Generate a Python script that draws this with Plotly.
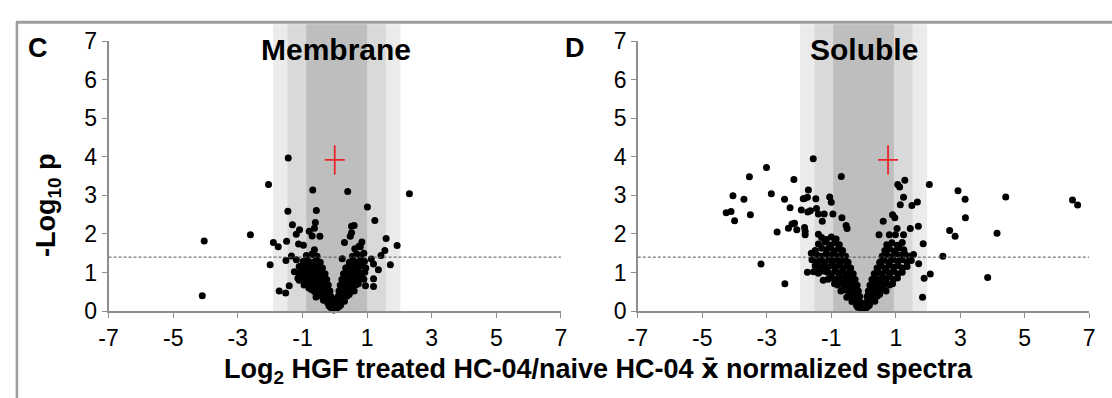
import plotly.graph_objects as go

# ---------------- data ----------------
# Membrane (panel C): isolated points
mem_x = [-1.44, -2.05, -0.68, 0.40, 1.01, -1.45, -0.57, 1.24, -0.60, -1.31, -1.09, -1.19, -0.79, -0.63,
         -0.70, -0.46, 0.52, 0.60, 0.52, 0.48, -2.61, -1.90, -1.75, -1.49, -1.12, -0.97, 0.30, 1.59,
         1.93, 0.84, 0.79, 1.55, 1.43, -1.34, -1.19, -2.00, -1.51, -0.63, -0.68, 1.72, 1.13, 1.20,
         1.35, -1.72, -1.52, 1.20, 1.20, 0.95, -1.41, -1.14, -4.04, -4.10, 2.31, 0.23]
mem_y = [3.97, 3.28, 3.14, 3.10, 2.70, 2.59, 2.61, 2.35, 2.30, 2.24, 2.11, 1.99, 2.07, 2.15,
         1.95, 1.94, 2.20, 2.22, 2.03, 1.94, 1.98, 1.78, 1.67, 1.81, 1.74, 1.71, 1.78, 1.88,
         1.70, 1.79, 1.67, 1.57, 1.44, 1.43, 1.33, 1.20, 1.31, 1.59, 1.47, 1.20, 1.35, 1.22,
         1.07, 0.52, 0.47, 0.84, 0.64, 0.66, 0.66, 0.85, 1.82, 0.40, 3.04, 1.36]

# Membrane: dense V near the origin (left arm then right arm), read row by row
mem_dense_x = [-0.03, -0.08, -0.13, -0.18, -0.06, -0.11,
               -0.10, -0.16, -0.22, -0.28, -0.35, -0.05,
               -0.12, -0.20, -0.27, -0.34, -0.42, -0.50, -0.58,
               -0.15, -0.23, -0.31, -0.39, -0.47, -0.55, -0.63, -0.72, -0.80,
               -0.20, -0.28, -0.36, -0.44, -0.52, -0.60, -0.68, -0.77, -0.86, -0.95,
               -0.25, -0.33, -0.41, -0.49, -0.57, -0.65, -0.74, -0.83, -0.92, -1.02, -1.10,
               -0.30, -0.40, -0.48, -0.56, -0.64, -0.72, -0.80, -0.90, -1.00, -1.12, -1.25,
               -0.38, -0.48, -0.58, -0.68, -0.78, -0.88, -1.00, -1.10,
               -0.45, -0.58, -0.70, -0.85, -0.98,
               -0.55, -0.70, -0.88,
               0.03, 0.08, 0.13, 0.18,
               0.06, 0.12, 0.18, 0.24, 0.30,
               0.10, 0.17, 0.24, 0.31, 0.38, 0.45,
               0.13, 0.21, 0.29, 0.37, 0.45, 0.53, 0.60,
               0.17, 0.25, 0.33, 0.41, 0.49, 0.57, 0.65, 0.73,
               0.22, 0.30, 0.38, 0.46, 0.54, 0.62, 0.70, 0.80, 0.90,
               0.27, 0.36, 0.45, 0.54, 0.63, 0.72, 0.82, 0.93,
               0.34, 0.44, 0.54, 0.64, 0.74, 0.85, 0.96,
               0.45, 0.57, 0.69, 0.80, 0.92,
               0.55, 0.68, 0.80, 0.90,
               0.62, 0.75]
mem_dense_y = [0.03, 0.07, 0.10, 0.14, 0.15, 0.20,
               0.24, 0.27, 0.22, 0.30, 0.28, 0.30,
               0.38, 0.42, 0.36, 0.44, 0.39, 0.43, 0.37,
               0.52, 0.57, 0.50, 0.60, 0.54, 0.58, 0.51, 0.56, 0.60,
               0.68, 0.72, 0.66, 0.74, 0.69, 0.73, 0.67, 0.71, 0.75, 0.68,
               0.82, 0.87, 0.80, 0.88, 0.84, 0.89, 0.81, 0.86, 0.83, 0.88, 0.80,
               0.97, 1.02, 0.95, 1.04, 0.99, 1.03, 0.96, 1.01, 1.05, 0.98, 1.02,
               1.12, 1.17, 1.10, 1.19, 1.14, 1.18, 1.11, 1.16,
               1.27, 1.32, 1.26, 1.34, 1.29,
               1.42, 1.48, 1.44,
               0.04, 0.09, 0.12, 0.15,
               0.22, 0.27, 0.24, 0.29, 0.26,
               0.38, 0.43, 0.36, 0.42, 0.39, 0.44,
               0.52, 0.57, 0.51, 0.59, 0.54, 0.58, 0.52,
               0.67, 0.72, 0.66, 0.74, 0.69, 0.73, 0.68, 0.71,
               0.82, 0.87, 0.81, 0.88, 0.84, 0.89, 0.82, 0.86, 0.83,
               0.97, 1.02, 0.96, 1.04, 0.99, 1.03, 0.97, 1.01,
               1.12, 1.17, 1.11, 1.19, 1.14, 1.18, 1.12,
               1.27, 1.32, 1.26, 1.33, 1.29,
               1.42, 1.48, 1.44, 1.50,
               1.62, 1.68]

# Soluble (panel D): isolated points
sol_x = [-3.01, -3.54, -2.16, -4.05, -2.86, -3.71, -2.45, -1.87, -1.74, -1.71, -4.26, -4.11, -4.00, -3.51,
         -2.28, -1.93, -1.73, -2.68, -2.33, -2.14, -2.22, -2.07, -1.81, -1.81, -3.18, -2.44, -1.74,
         -1.56, -0.69, 2.04, 1.28, 1.06, 1.12, 2.93, 3.15, 3.16, 2.67, 2.84, -1.83, -1.48, -1.05, -1.00,
         -1.65, -1.46, -1.40, -1.22, -0.95, -0.67, -1.28, -0.54, -0.51, -1.83, -1.40, 1.24, 1.14, 1.50,
         1.67, 0.90, 0.97, 0.61, 1.04, 1.45, 1.70, 0.80, 0.48, 0.99, 1.24, 1.85, 2.46, 1.71, 1.88, 2.07,
         1.83, 1.55, 4.41, 4.14, 3.85, 6.48, 6.64]
sol_y = [3.72, 3.48, 3.41, 2.99, 3.04, 2.90, 2.90, 2.91, 2.95, 3.14, 2.55, 2.58, 2.34, 2.50,
         2.68, 2.62, 2.57, 2.05, 2.15, 2.28, 2.26, 2.11, 2.07, 1.98, 1.22, 0.71, 1.01,
         3.95, 3.49, 3.28, 3.39, 3.28, 3.22, 3.12, 2.90, 2.42, 2.09, 1.94, 2.92, 2.91, 2.96, 2.82,
         2.60, 2.66, 2.52, 2.52, 2.52, 2.42, 2.33, 2.22, 2.14, 2.17, 1.99, 2.95, 2.76, 2.74,
         2.83, 2.50, 2.42, 2.33, 2.14, 2.14, 2.20, 1.98, 1.98, 1.98, 1.98, 1.75, 1.42, 1.23, 0.85, 0.96,
         0.36, 1.47, 2.96, 2.02, 0.87, 2.88, 2.75]

# Soluble: dense V near the origin (left arm then right arm), read row by row
sol_dense_x = [-0.03, -0.08, -0.13, -0.18, -0.22,
               -0.08, -0.15, -0.22, -0.29, -0.36,
               -0.12, -0.20, -0.28, -0.36, -0.44, -0.52,
               -0.16, -0.25, -0.34, -0.43, -0.52, -0.61, -0.70,
               -0.20, -0.30, -0.40, -0.50, -0.60, -0.70, -0.80, -0.90,
               -0.26, -0.36, -0.46, -0.56, -0.66, -0.76, -0.86, -0.98, -1.10, -1.25,
               -0.32, -0.43, -0.54, -0.65, -0.76, -0.88, -1.00, -1.12, -1.25, -1.40, -1.55,
               -0.40, -0.52, -0.64, -0.76, -0.88, -1.00, -1.12, -1.25, -1.38, -1.50,
               -0.48, -0.60, -0.72, -0.84, -0.96, -1.08, -1.20, -1.33, -1.46, -1.60,
               -0.56, -0.68, -0.80, -0.92, -1.04, -1.16, -1.30, -1.45, -1.62,
               -0.65, -0.78, -0.90, -1.02, -1.15, -1.30, -1.50,
               -0.75, -0.90, -1.05, -1.20, -1.40,
               -0.85, -1.00, -1.15, -1.30,
               0.03, 0.08, 0.13, 0.18,
               0.07, 0.14, 0.21, 0.28, 0.35,
               0.11, 0.19, 0.27, 0.35, 0.43, 0.50,
               0.15, 0.24, 0.33, 0.42, 0.51, 0.60, 0.70,
               0.20, 0.30, 0.40, 0.50, 0.60, 0.70, 0.80, 0.90,
               0.26, 0.37, 0.48, 0.59, 0.70, 0.81, 0.92, 1.05,
               0.33, 0.45, 0.57, 0.69, 0.81, 0.93, 1.06, 1.20,
               0.42, 0.55, 0.68, 0.81, 0.94, 1.07, 1.20, 1.35,
               0.50, 0.64, 0.78, 0.92, 1.06, 1.20, 1.35, 1.48,
               0.58, 0.72, 0.86, 1.00, 1.14, 1.28, 1.42,
               0.66, 0.80, 0.95, 1.10, 1.25,
               0.72, 0.88, 1.05, 1.20]
sol_dense_y = [0.04, 0.08, 0.12, 0.10, 0.15,
               0.22, 0.27, 0.24, 0.29, 0.25,
               0.38, 0.43, 0.37, 0.44, 0.40, 0.36,
               0.52, 0.57, 0.51, 0.59, 0.54, 0.58, 0.52,
               0.67, 0.72, 0.66, 0.74, 0.69, 0.73, 0.68, 0.71,
               0.82, 0.87, 0.81, 0.88, 0.84, 0.89, 0.82, 0.86, 0.83, 0.80,
               0.97, 1.02, 0.96, 1.04, 0.99, 1.03, 0.97, 1.01, 1.04, 0.98, 1.02,
               1.12, 1.17, 1.11, 1.19, 1.14, 1.18, 1.12, 1.16, 1.13, 1.18,
               1.27, 1.32, 1.26, 1.34, 1.29, 1.33, 1.27, 1.31, 1.28, 1.33,
               1.42, 1.47, 1.41, 1.49, 1.44, 1.48, 1.42, 1.46, 1.50,
               1.57, 1.62, 1.56, 1.64, 1.59, 1.63, 1.57,
               1.72, 1.77, 1.71, 1.79, 1.74,
               1.87, 1.92, 1.86, 1.91,
               0.04, 0.09, 0.12, 0.15,
               0.22, 0.27, 0.24, 0.29, 0.26,
               0.38, 0.43, 0.36, 0.42, 0.39, 0.44,
               0.52, 0.57, 0.51, 0.59, 0.54, 0.58, 0.52,
               0.67, 0.72, 0.66, 0.74, 0.69, 0.73, 0.68, 0.71,
               0.82, 0.87, 0.81, 0.88, 0.84, 0.89, 0.82, 0.86,
               0.97, 1.02, 0.96, 1.04, 0.99, 1.03, 0.97, 1.01,
               1.12, 1.17, 1.11, 1.19, 1.14, 1.18, 1.12, 1.16,
               1.27, 1.32, 1.26, 1.34, 1.29, 1.33, 1.27, 1.31,
               1.42, 1.47, 1.41, 1.49, 1.44, 1.48, 1.42,
               1.57, 1.62, 1.56, 1.64, 1.59,
               1.72, 1.77, 1.71, 1.78]

# Shaded bands: centre and half-widths (inner, middle, outer)
band_center = [0.06, 0.0]
band_half = [0.94, 1.52, 1.97]
band_colors = ["#bebebe", "#d9d9d9", "#ebebeb"]

# Red cross (mean +/- spread)
cross_x = [0.0, 0.76]
cross_y = [3.92, 3.92]
cross_dx = [0.31, 0.31]
cross_dy = [0.38, 0.38]

threshold = 1.4
x_ticks = [-7, -5, -3, -1, 1, 3, 5, 7]
x_ticktext = ["-7", "-5", "-3", "-1", "1", "3", "5", "7"]
y_ticks = [0, 1, 2, 3, 4, 5, 6, 7]
panel_titles = ["Membrane", "Soluble"]
panel_letters = ["C", "D"]

# ---------------- figure ----------------
W, H = 1112, 398
FONT = "Liberation Sans, Arial, Helvetica, sans-serif"
AX = "#8e8e8e"

def px(xp):
    return xp / W

def py(yp):
    return 1 - yp / H

fig = go.Figure()
panels = [(mem_x + mem_dense_x, mem_y + mem_dense_y, "x", "y"),
          (sol_x + sol_dense_x, sol_y + sol_dense_y, "x2", "y2")]
for xs, ys, xa, ya in panels:
    fig.add_trace(go.Scatter(x=xs, y=ys, mode="markers", xaxis=xa, yaxis=ya,
                             marker=dict(color="black", size=7, line=dict(width=0)),
                             cliponaxis=False, hoverinfo="skip"))
for i, (xa, ya) in enumerate([("x", "y"), ("x2", "y2")]):
    fig.add_trace(go.Scatter(x=[cross_x[i]], y=[cross_y[i]], mode="markers", xaxis=xa, yaxis=ya,
                             marker=dict(color="#e8262b", size=1),
                             error_x=dict(type="data", array=[cross_dx[i]], width=0, color="#e8262b", thickness=1.8),
                             error_y=dict(type="data", array=[cross_dy[i]], width=0, color="#e8262b", thickness=1.8),
                             hoverinfo="skip"))

xdom1 = [px(100), px(559)]
xdom2 = [px(637), px(1095)]
ydom = [py(319), py(30)]

axis_common = dict(showgrid=False, zeroline=False, showline=True, linecolor=AX, linewidth=1.6,
                   ticks="outside", ticklen=5, tickwidth=1.4, tickcolor=AX,
                   tickfont=dict(family=FONT, size=23, color="black"))

shapes = []
for i, xr in enumerate(["x", "x2"]):
    for k in [2, 1, 0]:
        shapes.append(dict(type="rect", xref=xr, yref="paper",
                           x0=band_center[i] - band_half[k], x1=band_center[i] + band_half[k],
                           y0=py(319), y1=py(12), fillcolor=band_colors[k], line=dict(width=0),
                           layer="below"))
    yr = "y" if i == 0 else "y2"
    shapes.append(dict(type="line", xref=xr, yref=yr, x0=-7, x1=7, y0=threshold, y1=threshold,
                       line=dict(color="#555555", width=1, dash="3px,2px")))

# outer frame (top and left edges)
shapes.append(dict(type="line", xref="paper", yref="paper", x0=px(6), x1=1.02, y0=py(10), y1=py(10),
                   line=dict(color="#9c9c9c", width=3)))
shapes.append(dict(type="line", xref="paper", yref="paper", x0=px(7), x1=px(7), y0=py(10), y1=-0.05,
                   line=dict(color="#9c9c9c", width=2.5)))

def ann(text, x, y, size, **kw):
    d = dict(text=text, x=px(x), y=py(y), xref="paper", yref="paper", showarrow=False,
             xanchor="center", yanchor="middle", font=dict(family=FONT, size=size, color="black"))
    d.update(kw)
    return d

annotations = [
    ann("<b>" + panel_letters[0] + "</b>", 28, 37, 27),
    ann("<b>" + panel_letters[1] + "</b>", 573, 37, 27),
    ann("<b>" + panel_titles[0] + "</b>", 331, 39, 30),
    ann("<b>" + panel_titles[1] + "</b>", 866, 39, 30),
    ann("<b>-Log<sub>10</sub> p</b>", 38, 205, 27, textangle=-90),
    ann("<b>Log<sub>2</sub> HGF treated HC-04/naive HC-04 "
        "<span style='font-family:DejaVu Sans'>x\u0304</span> normalized spectra</b>", 597, 383, 27),
]

fig.update_layout(
    width=W, height=H, autosize=False,
    margin=dict(l=0, r=0, t=0, b=0, pad=0),
    paper_bgcolor="white", plot_bgcolor="white",
    showlegend=False,
    xaxis=dict(domain=xdom1, range=[-7, 7], tickvals=x_ticks, ticktext=x_ticktext, anchor="y", **axis_common),
    yaxis=dict(domain=ydom, range=[0, 7], tickvals=y_ticks, anchor="x", **axis_common),
    xaxis2=dict(domain=xdom2, range=[-7, 7], tickvals=x_ticks, ticktext=x_ticktext, anchor="y2", **axis_common),
    yaxis2=dict(domain=ydom, range=[0, 7], tickvals=y_ticks, anchor="x2", **axis_common),
    shapes=shapes,
    annotations=annotations,
)

post = ("document.documentElement.style.margin='0px';"
        "document.body.style.margin='0px';"
        "document.body.style.overflow='hidden';"
        "document.documentElement.style.overflow='hidden';"
        "var gd=document.getElementById('{plot_id}');"
        "Plotly.relayout(gd,{width:window.innerWidth,height:window.innerHeight});")
fig.write_html("out.html", config={"displayModeBar": False}, post_script=post)
